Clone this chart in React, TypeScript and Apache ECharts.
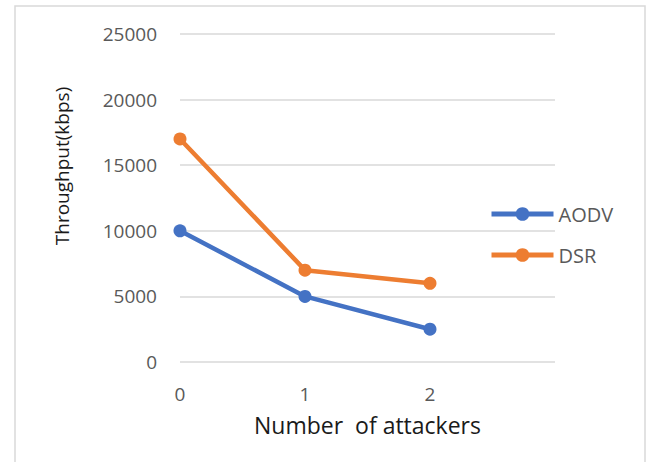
import React, { useEffect, useRef } from "react";
import * as echarts from "echarts";

// Throughput of AODV and DSR against the number of attackers
const attackers = [0, 1, 2];
const aodvThroughput = [10000, 5000, 2500];
const dsrThroughput = [17000, 7000, 6000];
const seriesNames = ["AODV", "DSR"];
const xTitle = "Number  of attackers";
const yTitle = "Throughput(kbps)";

const FONT = "'Open Sans', 'Noto Sans', sans-serif";

export default function App() {
  const ref = useRef<HTMLDivElement>(null);

  useEffect(() => {
    if (!ref.current) return;
    const chart = echarts.init(ref.current, undefined, { renderer: "svg" });
    const pts = (ys: number[]) => attackers.map((x, i) => [x, ys[i]]);
    chart.setOption({
      animation: false,
      backgroundColor: "#ffffff",
      grid: { left: 180, right: 93, top: 34, bottom: 100 },
      xAxis: {
        type: "value",
        min: 0,
        max: 3,
        interval: 1,
        name: xTitle,
        nameLocation: "middle",
        nameGap: 51,
        nameTextStyle: { fontFamily: FONT, fontSize: 23, color: "#1a1a1a" },
        axisLine: { show: false },
        axisTick: { show: false },
        splitLine: { show: false },
        axisLabel: {
          margin: 22,
          fontFamily: FONT,
          fontSize: 19,
          color: "#595959",
          formatter: (v: number) => (v <= 2 ? String(v) : ""),
        },
      },
      yAxis: {
        type: "value",
        min: 0,
        max: 25000,
        interval: 5000,
        axisLine: { show: false },
        axisTick: { show: false },
        splitLine: { lineStyle: { color: "#d9d9d9", width: 1.5 } },
        axisLabel: {
          margin: 23,
          fontFamily: FONT,
          fontSize: 19,
          color: "#595959",
          formatter: (v: number) => String(v),
        },
      },
      legend: {
        orient: "vertical",
        left: 484,
        top: 199,
        itemWidth: 62,
        itemHeight: 17,
        itemGap: 21,
        lineStyle: { width: 5 },
        textStyle: { fontFamily: FONT, fontSize: 20, color: "#595959" },
        data: seriesNames,
      },
      graphic: [
        {
          type: "rect",
          shape: { x: 15, y: 6, width: 630, height: 480 },
          style: { fill: "none", stroke: "#d9d9d9", lineWidth: 1.5 },
          silent: true,
        },
        {
          type: "text",
          x: 62,
          y: 166,
          rotation: Math.PI / 2,
          style: {
            text: yTitle,
            fontFamily: FONT,
            fontSize: 19,
            fill: "#1a1a1a",
            textAlign: "center",
            textVerticalAlign: "middle",
          },
        },
      ],
      series: [
        {
          name: seriesNames[0],
          type: "line",
          data: pts(aodvThroughput),
          color: "#4472C4",
          symbol: "circle",
          symbolSize: 13,
          lineStyle: { width: 4.5 },
        },
        {
          name: seriesNames[1],
          type: "line",
          data: pts(dsrThroughput),
          color: "#ED7D31",
          symbol: "circle",
          symbolSize: 13,
          lineStyle: { width: 4.5 },
        },
      ],
    });
    return () => chart.dispose();
  }, []);

  return (
    <div
      ref={ref}
      style={{ position: "absolute", left: 0, top: 0, width: 648, height: 462 }}
    />
  );
}
